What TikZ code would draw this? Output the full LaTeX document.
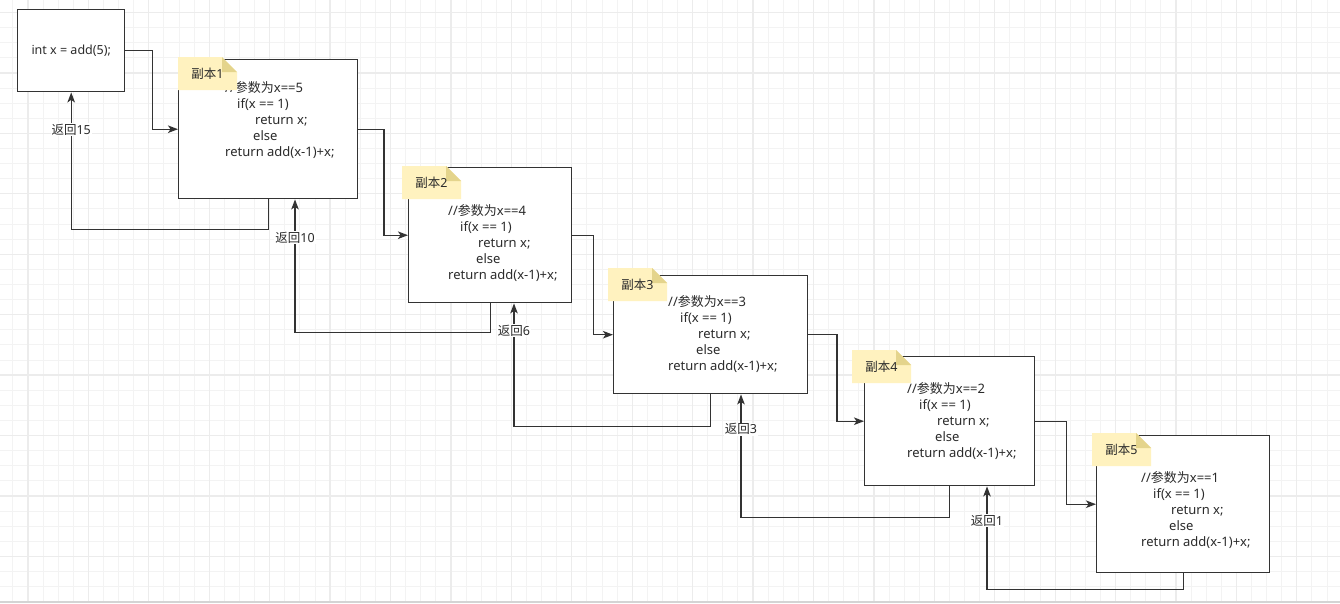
\documentclass[tikz,border=0pt]{standalone}
\usepackage{fontspec}
\setmainfont{Noto Sans}
\newfontfamily\cjk{Noto Sans CJK SC}
\usetikzlibrary{positioning,arrows.meta,calc}
\definecolor{ink}{HTML}{2B2B2B}
\definecolor{edge}{HTML}{333333}
\definecolor{notefill}{HTML}{FFF2BF}
\definecolor{foldfill}{HTML}{E4D48C}
\definecolor{gridminor}{HTML}{F3F3F3}
\definecolor{gridmajor}{HTML}{ECECEC}
\newcommand{\zh}[1]{{\cjk #1}}
\newcommand{\callcode}[1]{//\zh{参数为}x==#1\\
\hspace*{12pt}if(x == 1)\\
\hspace*{30pt}return x;\\
\hspace*{28pt}else\\
return add(x-1)+x;}

\begin{document}
\begin{tikzpicture}[x=1pt,y=-1pt,
  box/.style={draw=edge,line width=1.4pt,fill=white,inner sep=0,anchor=north west,text=ink,font=\fontsize{12.5}{16}\selectfont},
  code/.style={anchor=north west,align=left,inner sep=0,text=ink,font=\fontsize{13}{16}\selectfont},
  note/.style={minimum width=59,minimum height=33,inner sep=0,text=ink,font=\fontsize{12.5}{16}\selectfont,
    path picture={
      \fill[notefill] (path picture bounding box.south west) |- ([xshift=-15pt]path picture bounding box.north east)
        -- ([yshift=-15pt]path picture bounding box.north east) |- cycle;
      \fill[foldfill] ([xshift=-15pt]path picture bounding box.north east) -- ([xshift=-15pt,yshift=-15pt]path picture bounding box.north east)
        -- ([yshift=-15pt]path picture bounding box.north east) -- cycle;}},
  call/.style={draw=edge,line width=1.4pt,-{Stealth[length=10pt,width=7.5pt,inset=2.5pt]}},
  back/.style={fill=white,text=ink,inner sep=1pt,font=\fontsize{12.5}{14}\selectfont}]
\useasboundingbox (0,0) rectangle (1340,603);
\fill[white] (0,0) rectangle (1340,603);
% background grid
\foreach \i in {0,...,88} \draw[gridminor,line width=1pt] ({12.9+15.105*\i},0) -- ++(0,603);
\foreach \j in {0,...,39} \draw[gridminor,line width=1pt] (0,{12.58+15.105*\j}) -- ++(1340,0);
\foreach \i in {0,...,21} \draw[gridmajor,line width=1.3pt] ({28+60.42*\i},0) -- ++(0,603);
\foreach \j in {0,...,9} \draw[gridmajor,line width=1.3pt] (0,{12.58+60.42*\j}) -- ++(1340,0);
\fill[black!17] (0,600.5) rectangle (1340,603);

% boxes
\node[box,minimum width=107,minimum height=82] (b0) at (17,9) {int x = add(5);};
\node[box,minimum width=179,minimum height=139] (b1) at (178,59) {};
\node[box,minimum width=163,minimum height=135] (b2) at (408,167) {};
\node[box,minimum width=194,minimum height=118] (b3) at (613,275) {};
\node[box,minimum width=170,minimum height=129] (b4) at (864,356) {};
\node[box,minimum width=173,minimum height=137] (b5) at (1096,435) {};

\node[code] (c1) at (225,81.5) {\callcode{5}};
\node[code] (c2) at (448,204.2) {\callcode{4}};
\node[code] (c3) at (668,295.2) {\callcode{3}};
\node[code] (c4) at (907,382.5) {\callcode{2}};
\node[code] (c5) at (1141,471.5) {\callcode{1}};

\node[note] (n1) at (207.5,73.5) {\zh{副本}1};
\node[note] (n2) at (431.5,182.5) {\zh{副本}2};
\node[note] (n3) at (637.5,284.5) {\zh{副本}3};
\node[note] (n4) at (881.5,366.5) {\zh{副本}4};
\node[note] (n5) at (1121.5,449.5) {\zh{副本}5};

% calls
\draw[call] (b0.east) -- ++(27,0) |- (b1.west);
\draw[call] (b1.east) -- ++(25.5,0) |- (b2.west);
\draw[call] (b2.east) -- ++(21,0) |- (b3.west);
\draw[call] (b3.east) -- ++(28.5,0) |- (b4.west);
\draw[call] (b4.east) -- ++(31,0) |- (b5.west);

% returns
\draw[call] (b1.south) -- ++(0,30) -| node[back,pos=.865] {\zh{返回}15} (b0.south);
\draw[call] (b2.south) -- ++(0,29) -| node[back,pos=.857] {\zh{返回}10} ([xshift=117pt]b1.south west);
\draw[call] (b3.south) -- ++(0,32) -| node[back,pos=.89] {\zh{返回}6} ([xshift=106pt]b2.south west);
\draw[call] (b4.south) -- ++(0,31) -| node[back,pos=.858] {\zh{返回}3} ([xshift=128pt]b3.south west);
\draw[call] (b5.south) -- ++(0,16) -| node[back,pos=.835] {\zh{返回}1} ([xshift=123pt]b4.south west);
\end{tikzpicture}
\end{document}
